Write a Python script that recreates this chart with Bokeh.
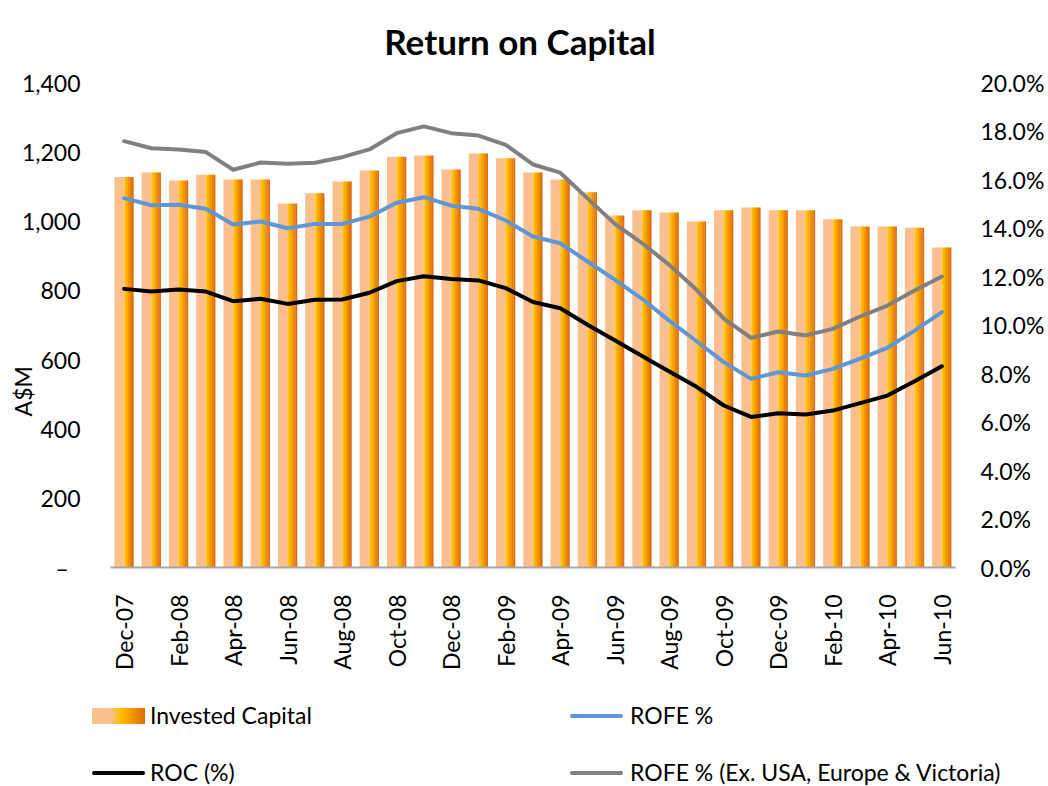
import math
from bokeh.plotting import figure
from bokeh.layouts import column
from bokeh.models import (ColumnDataSource, Range1d, LinearAxis, FixedTicker,
                          NumeralTickFormatter, PrintfTickFormatter, Div)
from bokeh.transform import dodge
from bokeh.embed import file_html
from bokeh.resources import INLINE

# ---------------- data ----------------
months = ["Dec-07", "Jan-08", "Feb-08", "Mar-08", "Apr-08", "May-08", "Jun-08",
          "Jul-08", "Aug-08", "Sep-08", "Oct-08", "Nov-08", "Dec-08", "Jan-09",
          "Feb-09", "Mar-09", "Apr-09", "May-09", "Jun-09", "Jul-09", "Aug-09",
          "Sep-09", "Oct-09", "Nov-09", "Dec-09", "Jan-10", "Feb-10", "Mar-10",
          "Apr-10", "May-10", "Jun-10"]
invested_capital = [1127, 1140, 1117, 1134, 1120, 1120, 1051, 1080, 1114, 1146,
                    1186, 1189, 1149, 1195, 1181, 1140, 1120, 1083, 1016, 1031,
                    1025, 999, 1031, 1039, 1031, 1031, 1005, 984, 984, 981, 924]
rofe_pct = [15.23, 14.94, 14.96, 14.79, 14.14, 14.27, 13.99, 14.17, 14.17, 14.47,
            15.04, 15.27, 14.92, 14.79, 14.31, 13.65, 13.37, 12.62, 11.87, 11.08,
            10.18, 9.33, 8.47, 7.78, 8.05, 7.92, 8.19, 8.61, 9.06, 9.77, 10.53]
roc_pct = [11.49, 11.38, 11.46, 11.38, 10.98, 11.08, 10.87, 11.04, 11.05, 11.33,
           11.81, 12.01, 11.90, 11.84, 11.52, 10.95, 10.69, 10.01, 9.37, 8.72,
           8.08, 7.45, 6.68, 6.21, 6.36, 6.31, 6.47, 6.78, 7.09, 7.68, 8.30]
rofe_ex_pct = [17.58, 17.29, 17.24, 17.13, 16.40, 16.70, 16.65, 16.69, 16.92, 17.24,
               17.91, 18.19, 17.91, 17.81, 17.43, 16.62, 16.28, 15.22, 14.17, 13.38,
               12.48, 11.45, 10.26, 9.47, 9.73, 9.57, 9.84, 10.35, 10.80, 11.42, 12.00]
left_ticks = [0, 200, 400, 600, 800, 1000, 1200, 1400]
right_ticks = [0, 2, 4, 6, 8, 10, 12, 14, 16, 18, 20]
label_every = 2
legend_labels = ["Invested Capital", "ROFE %", "ROC (%)",
                 "ROFE % (Ex. USA, Europe & Victoria)"]

FONT = "Lato"
BLUE = "#5F96D6"
GREY = "#808080"

src = ColumnDataSource(dict(
    x=list(range(len(months))),
    cap=invested_capital,
    rofe=rofe_pct,
    roc=roc_pct,
    rofe_ex=rofe_ex_pct,
))

p = figure(width=1048, height=686, output_backend="svg", toolbar_location=None,
           x_range=Range1d(-0.5, len(months) - 0.5), y_range=Range1d(0, 1400),
           min_border_left=110, min_border_right=93, min_border_top=82,
           min_border_bottom=119)
p.extra_y_ranges = {"pct": Range1d(0, 20)}
p.grid.visible = False
p.outline_line_color = None
p.background_fill_color = "white"
p.border_fill_color = "white"

# title (trailing spaces nudge the centred title slightly left, as in the reference)
p.title.text = "Return on Capital" + "\u2002\u00a0"
p.title.text_font = FONT
p.title.text_font_size = "35px"
p.title.text_font_style = "bold"
p.title.text_color = "black"
p.title.align = "center"
p.title.vertical_align = "top"
p.title.standoff = 38

# bars drawn as a horizontal colour gradient made of thin strips
BAR_W = 0.7
strips = [(0.00, 0.47, "#F9BF8F"), (0.47, 0.53, "#FCC870"), (0.53, 0.61, "#FFC000"),
          (0.61, 0.71, "#FAAC00"), (0.71, 0.81, "#F39700"), (0.81, 0.91, "#EA8000"),
          (0.91, 1.00, "#E06A0A")]
for a, b, col in strips:
    off = -BAR_W / 2 + BAR_W * (a + b) / 2
    w = BAR_W * (b - a) + (0.012 if b < 1 else 0)
    p.vbar(x=dodge("x", off), top="cap", bottom=0, width=w, source=src,
           fill_color=col, line_color=None)

line_kw = dict(source=src, y_range_name="pct", line_width=4,
               line_join="round", line_cap="round")
p.line("x", "rofe", line_color=BLUE, **line_kw)
p.line("x", "roc", line_color="black", **line_kw)
p.line("x", "rofe_ex", line_color=GREY, **line_kw)

# x axis
xa = p.xaxis[0]
xa.ticker = FixedTicker(ticks=list(range(0, len(months), label_every)))
xa.major_label_overrides = {i: months[i] for i in range(0, len(months), label_every)}
xa.major_label_orientation = math.pi / 2
xa.axis_line_color = "#A6A6A6"
xa.axis_line_width = 2
xa.major_tick_line_color = None
xa.minor_tick_line_color = None
xa.major_tick_out = 0
xa.major_tick_in = 0
xa.major_label_standoff = 27
xa.major_label_text_font = FONT
xa.major_label_text_font_size = "23px"
xa.major_label_text_color = "black"

# left axis
ya = p.yaxis[0]
ya.ticker = FixedTicker(ticks=left_ticks)
ya.formatter = NumeralTickFormatter(format="0,0")
ya.major_label_overrides = {0: "–  "}
ya.axis_line_color = None
ya.major_tick_line_color = None
ya.minor_tick_line_color = None
ya.major_tick_out = 0
ya.major_tick_in = 0
ya.major_label_standoff = 30
ya.major_label_text_font = FONT
ya.major_label_text_font_size = "23px"
ya.major_label_text_color = "black"
# trailing em spaces push the centred title down the axis, as in the reference
ya.axis_label = "A$M" + "\u2003" * 7 + "\u00a0" * 2
ya.axis_label_standoff = -18
ya.axis_label_text_font = FONT
ya.axis_label_text_font_size = "23px"
ya.axis_label_text_font_style = "normal"
ya.axis_label_text_color = "black"

# right axis
ra = LinearAxis(y_range_name="pct", ticker=FixedTicker(ticks=right_ticks),
                formatter=PrintfTickFormatter(format="%.1f%%"))
ra.axis_line_color = None
ra.major_tick_line_color = None
ra.minor_tick_line_color = None
ra.major_tick_out = 0
ra.major_tick_in = 0
ra.major_label_standoff = 25
ra.major_label_text_font = FONT
ra.major_label_text_font_size = "23px"
ra.major_label_text_color = "black"
p.add_layout(ra, "right")

# ---------------- legend strip below the chart ----------------
bar_swatch = ("background:linear-gradient(to right,#F9BF8F 0%,#F9BF8F 38%,"
              "#FFC000 52%,#F39700 75%,#E06A0A 100%);height:16px;")


def swatch(left, top, style):
    return (f'<div style="position:absolute;left:{left}px;top:{top}px;'
            f'width:53px;{style}"></div>')


def line_swatch(left, top, color):
    return swatch(left, top, f"height:4px;border-radius:2px;background:{color};")


def label(left, top, text):
    return (f'<div style="position:absolute;left:{left}px;top:{top}px;'
            f'font-family:{FONT};font-size:23px;line-height:23px;color:black;'
            f'white-space:nowrap;">{text}</div>')


html = ('<div style="position:relative;width:1048px;height:100px;">'
        + swatch(92, 22, bar_swatch) + label(150, 18, legend_labels[0].replace("&", "&amp;"))
        + line_swatch(570, 28, BLUE) + label(630, 18, legend_labels[1])
        + line_swatch(92, 85, "black") + label(150, 75, legend_labels[2])
        + line_swatch(570, 85, GREY) + label(630, 75, legend_labels[3].replace("&", "&amp;"))
        + '</div>')
legend_div = Div(text=html, width=1048, height=100, margin=0)

layout = column(p, legend_div, spacing=0)
open("out.html", "w").write(file_html(layout, INLINE))
